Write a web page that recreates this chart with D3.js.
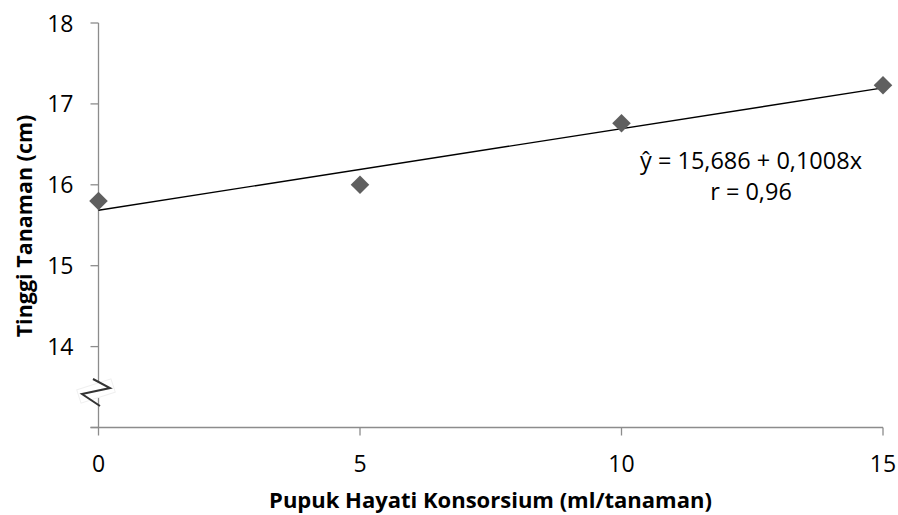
<!DOCTYPE html>
<html>
<head>
<meta charset="utf-8">
<script src="https://cdn.jsdelivr.net/npm/d3@7"></script>
<style>
  body { margin: 0; background: #fff; }
  text { font-family: "Open Sans", sans-serif; fill: #000; }
</style>
</head>
<body>
<div id="chart"></div>
<script>
// data
var doses = [0, 5, 10, 15];
var heights = [15.8, 16.0, 16.76, 17.23];
var yTicks = [14, 15, 16, 17, 18];
var xTicks = [0, 5, 10, 15];
var intercept = 15.686, slope = 0.1008;
var equationLines = ["\u0177 = 15,686 + 0,1008x", "r = 0,96"];

var width = 898, height = 515;
var svg = d3.select("#chart").append("svg")
  .attr("width", width)
  .attr("height", height);

var x = d3.scaleLinear().domain([0, 15]).range([98.5, 883]);
var y = d3.scaleLinear().domain([13, 18]).range([427.5, 23]);

// y axis
var yAxis = svg.append("g").attr("transform", "translate(" + x(0) + ",0)");
yAxis.append("line")
  .attr("y1", y(13)).attr("y2", y(18))
  .style("stroke", "#8c8c8c").style("stroke-width", 1.3);
yAxis.selectAll(".yt").data(yTicks.concat([13])).enter().append("line")
  .attr("x1", -8).attr("x2", 0)
  .attr("y1", function(d) { return y(d); })
  .attr("y2", function(d) { return y(d); })
  .style("stroke", "#8c8c8c").style("stroke-width", 1.3);
yAxis.selectAll(".yl").data(yTicks).enter().append("text")
  .attr("x", -25)
  .attr("y", function(d) { return y(d) + 8.5; })
  .attr("text-anchor", "end")
  .style("font-size", "23px")
  .text(function(d) { return d; });

// x axis
var xAxis = svg.append("g").attr("transform", "translate(0," + y(13) + ")");
xAxis.append("line")
  .attr("x1", x(0) - 8).attr("x2", x(15))
  .style("stroke", "#8c8c8c").style("stroke-width", 1.3);
xAxis.selectAll(".xt").data(xTicks).enter().append("line")
  .attr("x1", function(d) { return x(d); })
  .attr("x2", function(d) { return x(d); })
  .attr("y1", 0).attr("y2", 8)
  .style("stroke", "#8c8c8c").style("stroke-width", 1.3);
xAxis.selectAll(".xl").data(xTicks).enter().append("text")
  .attr("x", function(d) { return x(d); })
  .attr("y", 44.5)
  .attr("text-anchor", "middle")
  .style("font-size", "23px")
  .text(function(d) { return d; });

// axis break mark
var brk = svg.append("g");
brk.append("rect")
  .attr("x", 78).attr("y", 384).attr("width", 36).attr("height", 14)
  .attr("transform", "rotate(-18 96 391)")
  .style("fill", "#fff").style("stroke", "#f0f0f0");
brk.append("path")
  .attr("d", "M93,379 L110,388 L82,394 L100,406")
  .style("fill", "none").style("stroke", "#333").style("stroke-width", 2);

// regression line
svg.append("line")
  .attr("x1", x(0)).attr("y1", y(intercept))
  .attr("x2", x(15)).attr("y2", y(intercept + slope * 15))
  .style("stroke", "#000").style("stroke-width", 1.4);

// points
svg.selectAll(".pt").data(doses).enter().append("path")
  .attr("d", d3.symbol().type(d3.symbolDiamond2).size(220))
  .attr("transform", function(d, i) { return "translate(" + x(d) + "," + y(heights[i]) + ")"; })
  .style("fill", "#5f5f5f");

// equation
svg.selectAll(".eq").data(equationLines).enter().append("text")
  .attr("x", 751)
  .attr("y", function(d, i) { return 169 + i * 31; })
  .attr("text-anchor", "middle")
  .style("font-size", "23.5px")
  .text(function(d) { return d; });

// titles
svg.append("text")
  .attr("x", 490.5).attr("y", 508)
  .attr("text-anchor", "middle")
  .style("font-size", "22px").style("font-weight", "bold")
  .text("Pupuk Hayati Konsorsium (ml/tanaman)");
svg.append("text")
  .attr("transform", "translate(32,226) rotate(-90)")
  .attr("text-anchor", "middle")
  .style("font-size", "21.5px").style("font-weight", "bold")
  .text("Tinggi Tanaman (cm)");
</script>
</body>
</html>
